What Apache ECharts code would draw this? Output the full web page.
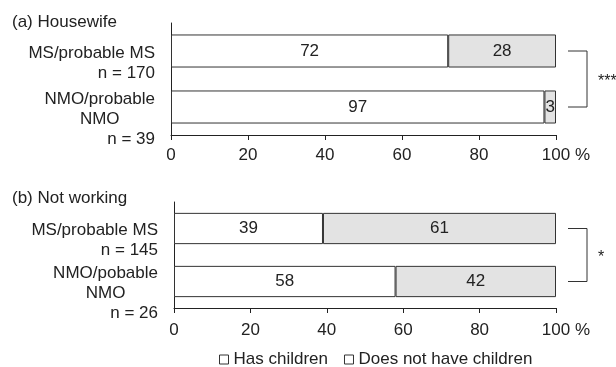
<!DOCTYPE html>
<html><head><meta charset="utf-8">
<script src="https://cdn.jsdelivr.net/npm/echarts@6/dist/echarts.min.js"></script>
<style>html,body{margin:0;padding:0;background:#fff}#c{width:616px;height:367px}</style>
</head><body><div id="c"></div>
<script>
// ---- data ----
const panelTitles = ['(a) Housewife', '(b) Not working'];
const groupsA = ['MS/probable MS', 'NMO/probable\nNMO'];
const sizesA = [170, 39];
const hasChildrenA = [72, 97];
const noChildrenA = [28, 3];
const groupsB = ['MS/probable MS', 'NMO/pobable\nNMO'];
const sizesB = [145, 26];
const hasChildrenB = [39, 58];
const noChildrenB = [61, 42];
const significance = ['***', '*'];
const seriesNames = ['Has children', 'Does not have children'];
const xTickValues = [0, 20, 40, 60, 80, 100];
const xUnit = '%';

// ---- styles ----
const FONT = "'Liberation Sans', Arial, sans-serif";
const INK = '#222';
const FS = 17;
const colors = ['#ffffff', '#e3e3e3'];

const chart = echarts.init(document.getElementById('c'), null, {renderer: 'canvas'});

function catFormatter(sizes) {
  return function (value, index) {
    const lines = String(value).split('\n');
    const out = lines.map((l, i) => (i === 0 ? '{r|' + l + '}' : '{c|' + l + '}'));
    out.push('{r|n = ' + sizes[index] + '}');
    return out.join('\n');
  };
}
const richCat = {
  r: {align: 'right', fontSize: FS, fontFamily: FONT, color: INK, lineHeight: 20},
  c: {align: 'center', fontSize: FS, fontFamily: FONT, color: INK, lineHeight: 20}
};

function xAxisOpt(gi, margin) {
  return {
    type: 'value', gridIndex: gi,
    min: xTickValues[0], max: xTickValues[xTickValues.length - 1],
    interval: xTickValues[1] - xTickValues[0],
    axisLine: {show: true, lineStyle: {color: INK, width: 1}},
    axisTick: {show: true, length: 5, lineStyle: {color: INK}},
    splitLine: {show: false},
    axisLabel: {
      margin, color: INK, fontSize: FS, fontFamily: FONT,
      formatter: v => v === xTickValues[xTickValues.length - 1] ? '{h| ' + xUnit + '}' + v + ' ' + xUnit : String(v),
      rich: {h: {color: 'rgba(0,0,0,0)', fontSize: FS, fontFamily: FONT}}
    }
  };
}
function yAxisOpt(gi, groups, sizes) {
  return {
    type: 'category', gridIndex: gi, data: groups, inverse: true,
    axisLine: {show: true, lineStyle: {color: INK, width: 1}},
    axisTick: {show: false},
    axisLabel: {
      margin: 16, align: 'right', verticalAlign: 'middle',
      padding: [24, 0, 0, 0],
      formatter: catFormatter(sizes), rich: richCat
    }
  };
}
function barSeries(name, gi, data, color) {
  return {
    name, type: 'bar', stack: 'g' + gi, xAxisIndex: gi, yAxisIndex: gi,
    data, barWidth: '59%',
    itemStyle: {color, borderColor: '#333', borderWidth: 1},
    label: {show: true, position: 'inside', color: INK, fontSize: FS, fontFamily: FONT},
    emphasis: {disabled: true}
  };
}

const option = {
  animation: false,
  backgroundColor: '#fff',
  textStyle: {fontFamily: FONT},
  title: panelTitles.map((t, i) => ({
    text: t, left: 12, top: i === 0 ? 14 : 190, padding: 0,
    textStyle: {fontSize: FS, fontWeight: 'normal', color: INK, fontFamily: FONT}
  })),
  grid: [
    {left: 171, right: 60, top: 23, height: 112},
    {left: 174, right: 60, top: 202, height: 106}
  ],
  xAxis: [xAxisOpt(0, 12), xAxisOpt(1, 14)],
  yAxis: [yAxisOpt(0, groupsA, sizesA), yAxisOpt(1, groupsB, sizesB)],
  legend: {
    left: 214, top: 346, itemWidth: 9, itemHeight: 9, itemGap: 16,
    icon: 'rect',
    data: seriesNames.map(n => ({name: n, itemStyle: {color: '#fff', borderColor: '#333', borderWidth: 1}})),
    textStyle: {fontSize: FS, color: INK, fontFamily: FONT},
    selectedMode: false
  },
  series: [
    barSeries(seriesNames[0], 0, hasChildrenA, colors[0]),
    barSeries(seriesNames[1], 0, noChildrenA, colors[1]),
    barSeries(seriesNames[0], 1, hasChildrenB, colors[0]),
    barSeries(seriesNames[1], 1, noChildrenB, colors[1])
  ]
};
chart.setOption(option);

// significance brackets, positioned from the axes
const graphics = [];
[0, 1].forEach(gi => {
  const xMax = xTickValues[xTickValues.length - 1];
  const p0 = chart.convertToPixel({xAxisIndex: gi, yAxisIndex: gi}, [xMax, 0]);
  const p1 = chart.convertToPixel({xAxisIndex: gi, yAxisIndex: gi}, [xMax, 1]);
  const x0 = p0[0] + 12, x1 = p0[0] + 31;
  graphics.push({
    type: 'polyline', silent: true,
    shape: {points: [[x0, p0[1]], [x1, p0[1]], [x1, p1[1]], [x0, p1[1]]]},
    style: {stroke: '#333', lineWidth: 1, fill: null}
  });
  graphics.push({
    type: 'text', silent: true,
    x: p0[0] + 42, y: (p0[1] + p1[1]) / 2 + 3,
    style: {text: significance[gi], fontSize: 16, fontFamily: FONT, fill: INK, verticalAlign: 'middle', align: 'left'}
  });
});
chart.setOption({graphic: graphics});
</script>
</body></html>
